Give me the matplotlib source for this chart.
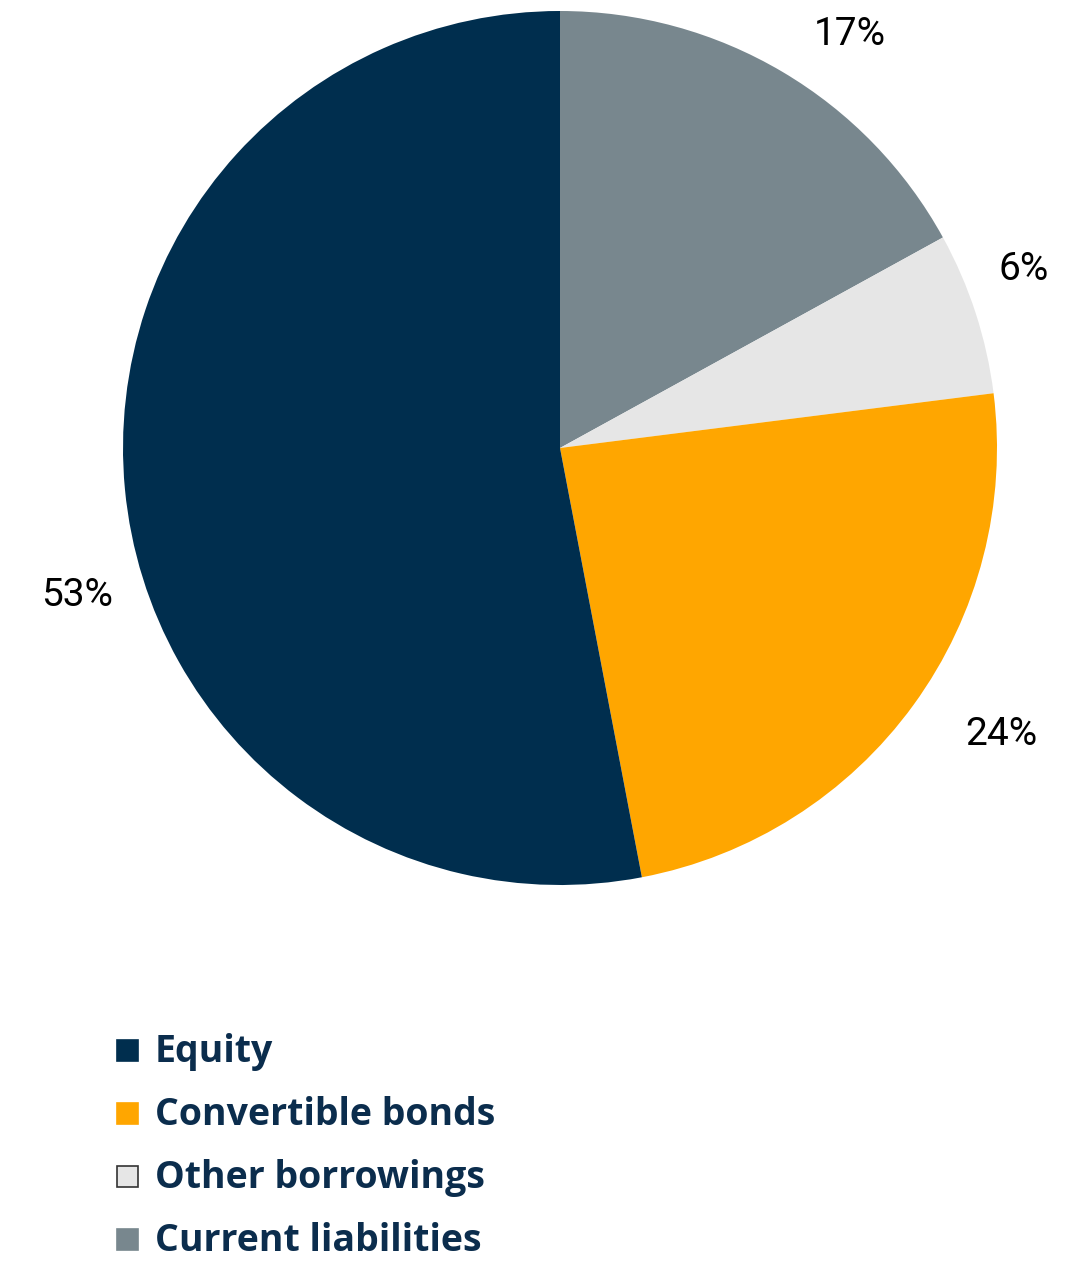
import numpy as np
import matplotlib
matplotlib.use("Agg")
import matplotlib.pyplot as plt
from matplotlib.patches import Rectangle

# Funding structure (share of total, %)
categories = ["Current liabilities", "Other borrowings", "Convertible bonds", "Equity"]
shares = [17, 6, 24, 53]
colors = ["#78878e", "#e6e6e6", "#ffa600", "#002e4e"]

legend_order = ["Equity", "Convertible bonds", "Other borrowings", "Current liabilities"]

# label placement (angle in degrees, radius relative to pie radius)
label_angles = [55, 21, -33, 197]
label_radii = [1.156, 1.137, 1.204, 1.156]

text_color = "#0b2d4d"

fig = plt.figure(figsize=(10.84, 12.61), dpi=100)
W, H = 1084, 1261

# pie axes
cx, cy, r = 560, 448, 437
ax = fig.add_axes([(cx - r) / W, (H - cy - r) / H, 2 * r / W, 2 * r / H])
wedges, _ = ax.pie(shares, colors=colors, startangle=90, counterclock=False,
                   radius=1, wedgeprops=dict(linewidth=0))
ax.set_xlim(-1, 1)
ax.set_ylim(-1, 1)
ax.set_aspect("equal")
ax.axis("off")

for val, ang, rad in zip(shares, label_angles, label_radii):
    t = np.deg2rad(ang)
    ax.text(rad * np.cos(t), rad * np.sin(t), f"{val}%", ha="center", va="center",
            fontsize=28, family="Roboto", color="black", clip_on=False)

# legend
cmap = dict(zip(categories, colors))
lax = fig.add_axes([0, 0, 1, 1])
lax.set_xlim(0, W)
lax.set_ylim(H, 0)
lax.axis("off")
row_y = [1051, 1114, 1177, 1240]
for name, y in zip(legend_order, row_y):
    ec = "#333333" if name == "Other borrowings" else cmap[name]
    lax.add_patch(Rectangle((117, y - 11), 21, 21, facecolor=cmap[name],
                            edgecolor=ec, linewidth=1.2))
    lax.text(155, y + 1, name, ha="left", va="center", fontsize=27,
             fontweight="bold", family="Open Sans", color=text_color)

fig.savefig("out.png", dpi=100)
